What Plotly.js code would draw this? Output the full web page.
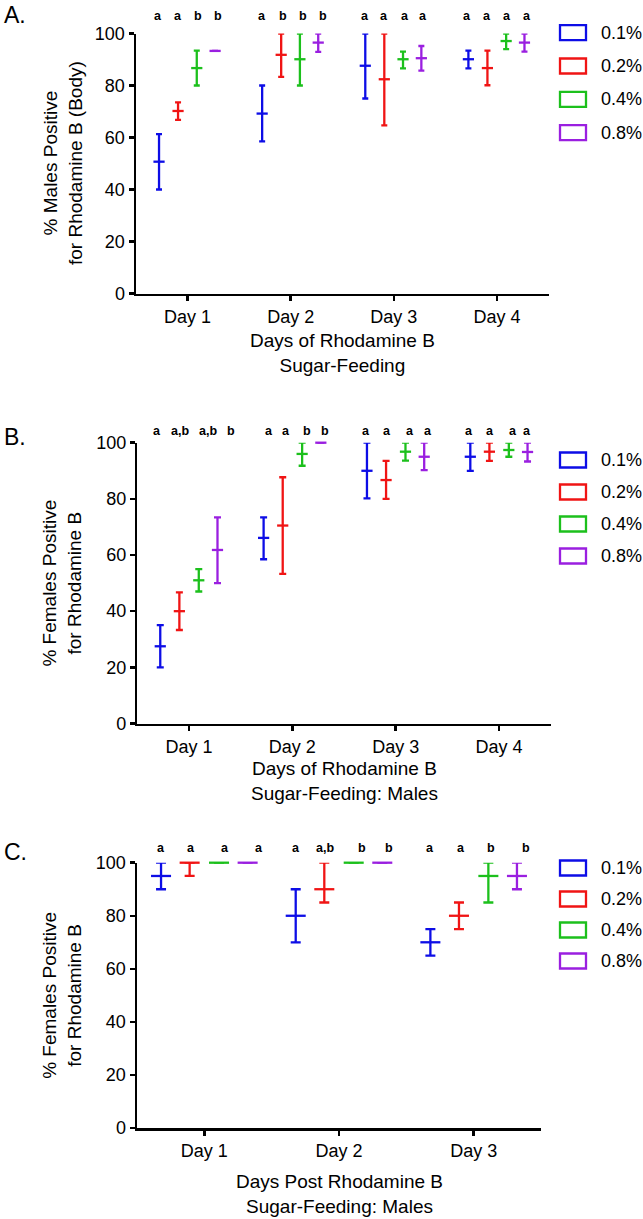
<!DOCTYPE html>
<html>
<head>
<meta charset="utf-8">
<script src="https://cdn.plot.ly/plotly-3.0.1.min.js"></script>
<style>html,body{margin:0;padding:0;background:#fff;}#chart{width:643px;height:1219px;}</style>
</head>
<body>
<div id="chart"></div>
<script>
// ---------------- DATA ----------------
const days4 = ['Day 1', 'Day 2', 'Day 3', 'Day 4'];
const days3 = ['Day 1', 'Day 2', 'Day 3'];
const concentrations = ['0.1%', '0.2%', '0.4%', '0.8%'];

// Panel A: % males positive (body), per concentration, per day
const A_mean_01 = [50.7, 69.2, 87.6, 90.1];
const A_hi_01   = [61.3, 80.0, 100, 93.4];
const A_lo_01   = [40.0, 58.5, 75.0, 86.6];
const A_mean_02 = [70.2, 91.8, 82.4, 86.7];
const A_hi_02   = [73.5, 100, 100, 93.4];
const A_lo_02   = [66.8, 83.3, 64.7, 80.1];
const A_mean_04 = [86.7, 90.1, 90.1, 97.1];
const A_hi_04   = [93.4, 100, 93.0, 100];
const A_lo_04   = [80.0, 80.0, 86.6, 94.0];
const A_mean_08 = [93.3, 96.5, 90.5, 96.5];
const A_hi_08   = [93.3, 100, 95.2, 100];
const A_lo_08   = [93.3, 92.9, 85.7, 93.0];
const A_letters = [['a','a','b','b'], ['a','b','b','b'], ['a','a','a','a'], ['a','a','a','a']];

// Panel B: % females positive, per concentration, per day
const B_mean_01 = [27.5, 66.1, 90.0, 95.0];
const B_hi_01   = [35.0, 73.4, 100, 100];
const B_lo_01   = [20.0, 58.5, 80.2, 90.0];
const B_mean_02 = [40.0, 70.5, 86.7, 96.8];
const B_hi_02   = [46.7, 87.7, 93.5, 100];
const B_lo_02   = [33.3, 53.3, 80.0, 93.5];
const B_mean_04 = [51.0, 96.0, 96.8, 97.4];
const B_hi_04   = [55.0, 100, 100, 100];
const B_lo_04   = [47.0, 91.8, 93.6, 95.0];
const B_mean_08 = [61.8, 100, 95.0, 96.7];
const B_hi_08   = [73.4, 100, 100, 100];
const B_lo_08   = [50.0, 100, 90.2, 93.3];
const B_letters = [['a','a,b','a,b','b'], ['a','a','b','b'], ['a','a','a','a'], ['a','a','a','a']];

// Panel C: % females positive, days post feeding
const C_mean_01 = [95, 80, 70];
const C_hi_01   = [100, 90, 75];
const C_lo_01   = [90, 70, 65];
const C_mean_02 = [100, 90, 80];
const C_hi_02   = [100, 100, 85];
const C_lo_02   = [95, 85, 75];
const C_mean_04 = [100, 100, 95];
const C_hi_04   = [100, 100, 100];
const C_lo_04   = [100, 100, 85];
const C_mean_08 = [100, 100, 95];
const C_hi_08   = [100, 100, 100];
const C_lo_08   = [100, 100, 90];
const C_letters = [['a','a','a','a'], ['a','a,b','b','b'], ['a','a','b','b']];

// ---------------- STYLE ----------------
const W = 643, H = 1219;
const colors = ['#0d0de6', '#f01414', '#1cc01c', '#9a1fe0'];
const FONT = 'Liberation Sans, Arial, Helvetica, sans-serif';
const px = v => v / W;
const py = v => 1 - v / H;

const panels = [
  {
    key: '', days: days4, letters: A_letters,
    means: [A_mean_01, A_mean_02, A_mean_04, A_mean_08],
    his: [A_hi_01, A_hi_02, A_hi_04, A_hi_08],
    los: [A_lo_01, A_lo_02, A_lo_04, A_lo_08],
    xdom: [136, 548.5], ytop: 33.5, ybot: 293.5, dayPx: 103,
    barOff: [-28.5, -9.5, 9.2, 27.5], cap: 3, msize: 8,
    letOff: [[-30,-10,10,30], [-29,-8,12,32], [-29,-10,11,29], [-30,-10,10,30]],
    letterY: 16,
    label: 'A.', labelY: 15,
    ytitle: '% Males Positive<br>for Rhodamine B (Body)',
    xtitle: 'Days of Rhodamine B<br>Sugar-Feeding', xtitleY: 353,
    legY: [32.7, 66, 99.3, 132.6]
  },
  {
    key: '2', days: days4, letters: B_letters,
    means: [B_mean_01, B_mean_02, B_mean_04, B_mean_08],
    his: [B_hi_01, B_hi_02, B_hi_04, B_hi_08],
    los: [B_lo_01, B_lo_02, B_lo_04, B_lo_08],
    xdom: [137.3, 550.7], ytop: 442.7, ybot: 723.5, dayPx: 103.3,
    barOff: [-28.7, -9.6, 9.8, 28.5], cap: 3.5, msize: 8,
    letOff: [[-32,-9,19,42], [-23,-6,15,33], [-30,-9,14,32], [-30,-9,14,28]],
    letterY: 431,
    label: 'B.', labelY: 437,
    ytitle: '% Females Positive<br>for Rhodamine B',
    xtitle: 'Days of Rhodamine B<br>Sugar-Feeding: Males', xtitleY: 781,
    legY: [460, 492, 524, 556]
  },
  {
    key: '3', days: days3, letters: C_letters,
    means: [C_mean_01, C_mean_02, C_mean_04, C_mean_08],
    his: [C_hi_01, C_hi_02, C_hi_04, C_hi_08],
    los: [C_lo_01, C_lo_02, C_lo_04, C_lo_08],
    xdom: [137, 541], ytop: 862.7, ybot: 1128, dayPx: 134.7,
    barOff: [-43.3, -14.7, 14.7, 43.3], cap: 5, msize: 14.3,
    letOff: [[-43,-13,21,55], [-43,-14,23,50], [-44,-13,17,52]],
    letterY: 847.5,
    label: 'C.', labelY: 852,
    ytitle: '% Females Positive<br>for Rhodamine B',
    xtitle: 'Days Post Rhodamine B<br>Sugar-Feeding: Males', xtitleY: 1194,
    legY: [868, 899, 930, 961]
  }
];

const traces = [];
const layout = {
  width: W, height: H,
  margin: {l: 0, r: 0, t: 0, b: 0},
  paper_bgcolor: '#fff', plot_bgcolor: '#fff',
  showlegend: false,
  font: {family: FONT, size: 18, color: '#000'},
  annotations: [], shapes: []
};

panels.forEach(p => {
  const xa = 'x' + p.key, ya = 'y' + p.key;
  const xname = 'xaxis' + p.key, yname = 'yaxis' + p.key;
  const nDays = p.days.length;
  const axisCommon = {
    showline: true, linecolor: '#000', linewidth: 2.5,
    ticks: 'outside', ticklen: 5, tickwidth: 2.5, tickcolor: '#000',
    showgrid: false, zeroline: false, fixedrange: true,
    tickfont: {family: FONT, size: 18, color: '#000'}
  };
  layout[xname] = Object.assign({}, axisCommon, {
    domain: [px(p.xdom[0]), px(p.xdom[1])],
    anchor: ya, range: [0.5, nDays + 0.5],
    tickmode: 'array', tickvals: p.days.map((d, i) => i + 1), ticktext: p.days
  });
  layout[yname] = Object.assign({}, axisCommon, {
    domain: [py(p.ybot), py(p.ytop)],
    anchor: xa, range: [0, 100], tickmode: 'linear', tick0: 0, dtick: 20
  });

  concentrations.forEach((c, s) => {
    const mean = p.means[s];
    traces.push({
      type: 'scatter', mode: 'markers', name: c,
      xaxis: xa, yaxis: ya, cliponaxis: false,
      x: p.days.map((d, i) => i + 1 + p.barOff[s] / p.dayPx),
      y: mean,
      marker: {symbol: 'line-ew', size: p.msize, color: colors[s], line: {color: colors[s], width: 2.3}},
      error_y: {
        type: 'data', symmetric: false,
        array: mean.map((m, i) => p.his[s][i] - m),
        arrayminus: mean.map((m, i) => m - p.los[s][i]),
        color: colors[s], thickness: 2.3, width: p.cap
      },
      hoverinfo: 'skip'
    });
  });

  // significance letters
  p.letters.forEach((row, d) => {
    row.forEach((t, s) => {
      layout.annotations.push({
        xref: xa, yref: 'paper',
        x: d + 1 + p.letOff[d][s] / p.dayPx, y: py(p.letterY),
        text: t, showarrow: false, xanchor: 'center', yanchor: 'middle',
        font: {family: FONT, size: 12.5, color: '#000', weight: 'bold'}
      });
    });
  });

  // panel label
  layout.annotations.push({
    xref: 'paper', yref: 'paper', x: px(2), y: py(p.labelY),
    text: p.label, showarrow: false, xanchor: 'left', yanchor: 'middle',
    font: {family: FONT, size: 23, color: '#000'}
  });

  // y title
  layout.annotations.push({
    xref: 'paper', yref: 'paper', x: px(62.5), y: py((p.ytop + p.ybot) / 2),
    text: p.ytitle, showarrow: false, textangle: -90, align: 'center',
    xanchor: 'center', yanchor: 'middle',
    font: {family: FONT, size: 19, color: '#000'}
  });

  // x title
  layout.annotations.push({
    xref: 'paper', yref: 'paper', x: px((p.xdom[0] + p.xdom[1]) / 2), y: py(p.xtitleY),
    text: p.xtitle, showarrow: false, align: 'center',
    xanchor: 'center', yanchor: 'middle',
    font: {family: FONT, size: 19, color: '#000'}
  });

  // legend (open rectangles + text)
  concentrations.forEach((c, s) => {
    const ly = p.legY[s];
    layout.shapes.push({
      type: 'rect', xref: 'paper', yref: 'paper',
      x0: px(560), x1: px(586), y0: py(ly + 7.5), y1: py(ly - 7.5),
      line: {color: colors[s], width: 2.3}, fillcolor: 'rgba(0,0,0,0)'
    });
    layout.annotations.push({
      xref: 'paper', yref: 'paper', x: px(599), y: py(ly),
      text: c, showarrow: false, xanchor: 'left', yanchor: 'middle',
      font: {family: FONT, size: 18, color: '#000'}
    });
  });
});

Plotly.newPlot('chart', traces, layout, {displayModeBar: false, staticPlot: true});
</script>
</body>
</html>
